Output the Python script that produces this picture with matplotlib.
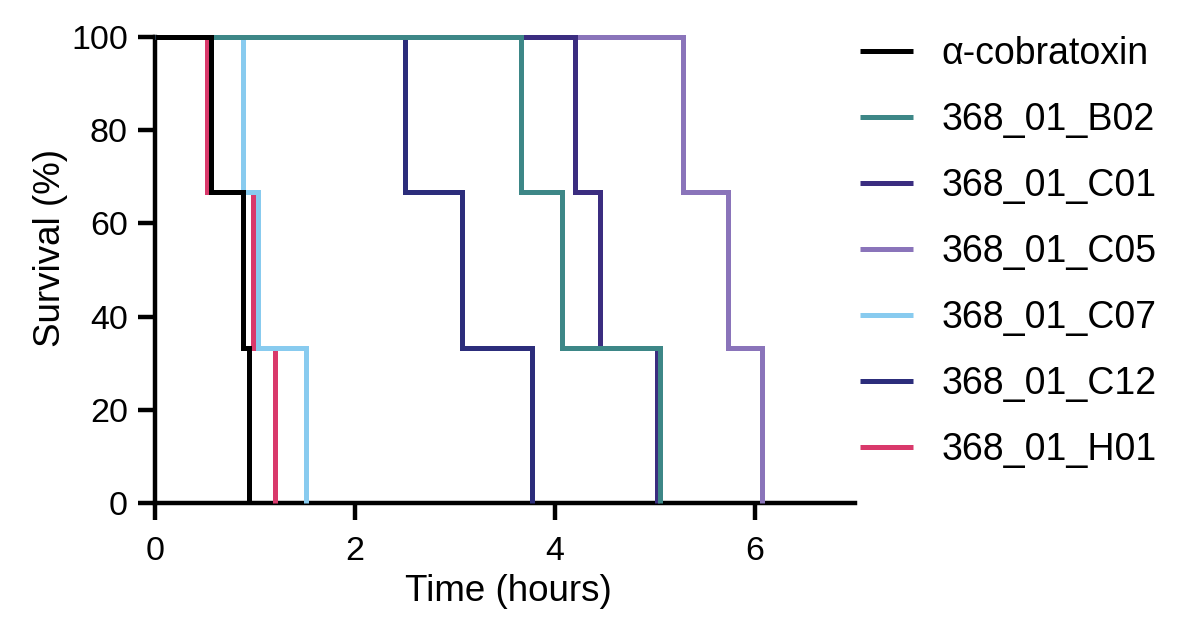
import matplotlib
matplotlib.use("Agg")
import matplotlib.pyplot as plt

plt.rcParams['font.family'] = ['Liberation Sans', 'DejaVu Sans']

# survival steps (time of each drop in hours, survival % after it)
labels = ["α-cobratoxin", "368_01_B02", "368_01_C01", "368_01_C05",
          "368_01_C07", "368_01_C12", "368_01_H01"]
colors = ["#000000", "#3d8787", "#3b2d80", "#8a74ba",
          "#88cbef", "#2c2d7b", "#d9396b"]

surv = [100, 66.67, 33.33, 0]
t_cobra = [0, 0.56, 0.88, 0.94]
t_b02 = [0, 3.66, 4.07, 5.05]
t_c01 = [0, 4.20, 4.45, 5.02]
t_c05 = [0, 5.28, 5.73, 6.07]
t_c07 = [0, 0.88, 1.03, 1.51]
t_c12 = [0, 2.50, 3.07, 3.77]
t_h01 = [0, 0.52, 0.98, 1.20]
times = [t_cobra, t_b02, t_c01, t_c05, t_c07, t_c12, t_h01]

fig = plt.figure(figsize=(12, 6.29), dpi=100)
ax = fig.add_axes([155/1200, 1 - 503/629, 700/1200, 466/629])

lines = []
n = len(labels)
for i in range(n):
    ln, = ax.step(times[i], surv, where='post', color=colors[i], lw=3.6,
                  label=labels[i], zorder=10 + (n - i), clip_on=False,
                  solid_joinstyle='miter', solid_capstyle='butt')
    lines.append(ln)

ax.set_xlim(0, 7)
ax.set_ylim(0, 100)
ax.set_xticks([0, 2, 4, 6])
ax.set_yticks([0, 20, 40, 60, 80, 100])

for s in ['top', 'right']:
    ax.spines[s].set_visible(False)
for s in ['left', 'bottom']:
    ax.spines[s].set_linewidth(3.2)
    ax.spines[s].set_zorder(5)

ax.tick_params(axis='both', length=12.5, width=3.2, labelsize=24.5)
ax.tick_params(axis='x', pad=11)
ax.tick_params(axis='y', pad=7)

ax.set_xlabel("Time (hours)", fontsize=26.5)
ax.set_ylabel("Survival (%)", fontsize=26.5)
ax.xaxis.set_label_coords(0.505, -0.152)
ax.yaxis.set_label_coords(-0.125, 0.547)

fig.legend(handles=lines, loc='upper left', bbox_to_anchor=(860/1200, 0.943),
           frameon=False, fontsize=27, handlelength=1.42, handletextpad=0.75,
           labelspacing=0.8, borderpad=0, borderaxespad=0)

fig.savefig("out.png", dpi=100)
